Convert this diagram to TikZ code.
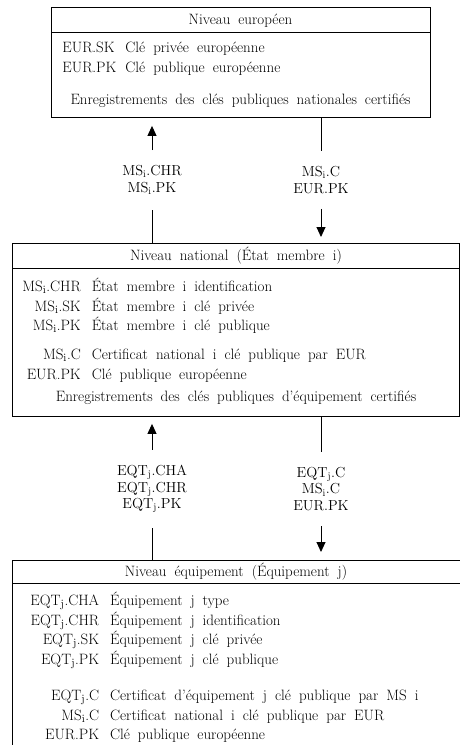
\documentclass[tikz,border=0pt]{standalone}
\usepackage{amsmath}
\usepackage{tikz}
\usetikzlibrary{arrows.meta}
\def\MS{MS$_{\mathrm{i}}$}
\def\EQT{EQT$_{\mathrm{j}}$}
\def\widespace{\spaceskip=8pt plus 2pt minus 1pt\relax}
\tikzset{
  level/.style={draw, inner sep=0pt, anchor=north west},
  txt/.style={font=\fontsize{15}{19.5}\selectfont\widespace, inner sep=0pt},
  msg/.style={font=\fontsize{14.5}{16.5}\selectfont, align=center, inner xsep=0pt, inner ysep=15pt},
  tip/.style={-{Triangle[length=10pt,width=9pt]}},
}

\begin{document}
\begin{tikzpicture}[x=1pt, y=-1pt, line width=0.9pt]
    \useasboundingbox (0,0) rectangle (460,745);
    \clip (0,0) rectangle (460,745);
    % the three levels
    \node[level, minimum width=379pt, minimum height=110pt] (EU) at (51,7) {};
    \node[level, minimum width=447pt, minimum height=173pt] (NAT) at (12,243) {};
    \node[level, minimum width=470pt, minimum height=220pt] (EQ) at (12,560) {};
    \draw (EU.north west) ++(0,25) -- ++(379,0);
    \draw (NAT.north west) ++(0,25) -- ++(447,0);
    \draw (EQ.north west) ++(0,23) -- ++(470,0);
    \node[txt, anchor=base] (EUhead) at (240.5,24) {Niveau européen};
    \node[txt, anchor=base] (NAThead) at (236,260) {Niveau national (État membre i)};
    \node[txt, anchor=base] (EQhead) at (236,576) {Niveau équipement (Équipement j)};
    % keys held at each level
    \node[txt, anchor=base west] (EUkeys) at (62,52.5) {\begin{tabular}[t]{@{}l@{\hspace{9pt}}l@{}}
      EUR.SK & Clé privée européenne\\
      EUR.PK & Clé publique européenne
    \end{tabular}};
    \node[txt, anchor=base] (EUrec) at (240.5,104.5) {Enregistrements des clés publiques nationales certifiés};
    \node[txt, anchor=base west] (NATkeys) at (22,291.5) {\begin{tabular}[t]{@{}r@{\hspace{11pt}}l@{}}
      \MS.CHR & État membre i identification\\
      \MS.SK & État membre i clé privée\\
      \MS.PK & État membre i clé publique\\[9.5pt]
      \MS.C & Certificat national i clé publique par EUR\\
      EUR.PK & Clé publique européenne
    \end{tabular}};
    \node[txt, anchor=base] (NATrec) at (236,401.5) {Enregistrements des clés publiques d'équipement certifiés};
    \node[txt, anchor=base west] (EQkeys) at (30,605.5) {\begin{tabular}[t]{@{}r@{\hspace{11pt}}l@{}}
      \EQT.CHA & Équipement j type\\
      \EQT.CHR & Équipement j identification\\
      \EQT.SK & Équipement j clé privée\\
      \EQT.PK & Équipement j clé publique\\[17pt]
      \EQT.C & Certificat d'équipement j clé publique par MS i\\
      \MS.C & Certificat national i clé publique par EUR\\
      EUR.PK & Clé publique européenne
    \end{tabular}};
    % messages between levels
    \node[msg] (M1) at (152,180) {\MS.CHR\\\MS.PK};
    \node[msg] (M2) at (321,180) {\MS.C\\EUR.PK};
    \node[msg] (M3) at (152,489) {\EQT.CHA\\\EQT.CHR\\\EQT.PK};
    \node[msg] (M4) at (321,489) {\EQT.C\\\MS.C\\EUR.PK};
    \draw[tip, shorten >=8pt] (M1.north) -- (EU.south -| M1.north);
    \draw (NAT.north -| M1.south) -- (M1.south);
    \draw (EU.south -| M2.north) -- (M2.north);
    \draw[tip, shorten >=6pt] (M2.south) -- (NAT.north -| M2.south);
    \draw[tip, shorten >=7pt] (M3.north) -- (NAT.south -| M3.north);
    \draw (EQ.north -| M3.south) -- (M3.south);
    \draw (NAT.south -| M4.north) -- (M4.north);
    \draw[tip, shorten >=8pt] (M4.south) -- (EQ.north -| M4.south);
\end{tikzpicture}
\end{document}
